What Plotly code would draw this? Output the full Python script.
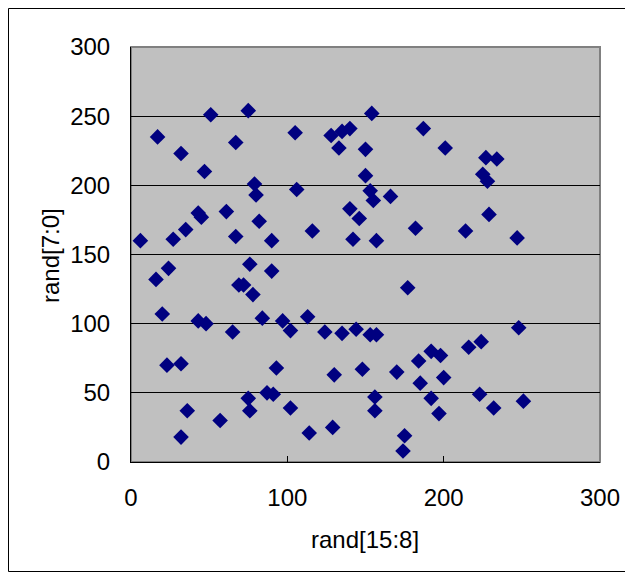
import plotly.graph_objects as go

x_vals = [6, 17, 32, 47, 51, 67, 75, 79, 80, 106, 105, 128, 135, 140, 133, 154, 150, 150, 153, 155,
          166, 187, 201, 227, 234, 225, 228, 229, 214, 247, 182, 157, 142, 146, 140, 116, 90, 82, 61, 43,
          45, 35, 27, 67, 24, 16, 76, 90, 69, 72, 78, 177, 20, 43, 48, 65, 84, 97, 102, 113,
          124, 135, 144, 153, 157, 248, 23, 32, 93, 87, 91, 130, 148, 170, 184, 192, 198, 200, 185, 216,
          224, 223, 232, 251, 192, 197, 156, 156, 175, 174, 129, 114, 102, 75, 76, 57, 36, 32]
y_vals = [160, 235, 223, 210, 251, 231, 254, 201, 193, 197, 238, 236, 239, 241, 227, 252, 226, 207, 196, 189,
          192, 241, 227, 220, 219, 208, 203, 179, 167, 162, 169, 160, 161, 176, 183, 167, 160, 174, 181, 180,
          177, 168, 161, 163, 140, 132, 143, 138, 128, 128, 121, 126, 107, 102, 100, 94, 104, 102, 95, 105,
          94, 93, 96, 92, 92, 97, 70, 71, 68, 50, 49, 63, 67, 65, 73, 80, 77, 61, 57, 83,
          87, 49, 39, 44, 46, 35, 47, 37, 19, 8, 25, 21, 39, 46, 37, 30, 37, 18]

x_ticks = [0, 100, 200, 300]
y_ticks = [0, 50, 100, 150, 200, 250, 300]
x_title = "rand[15:8]"
y_title = "rand[7:0]"

FONT = "Liberation Sans, Arial, sans-serif"
FS = 24

# figure is drawn inside the page's 8px body margin
W, H = 625, 564
L, R, T, B = 123, 592, 39, 454
pw, ph = R - L, B - T

def px(x):
    return (x - L) / pw

def py(y):
    return (B - y) / ph

fig = go.Figure()
fig.add_trace(go.Scatter(
    x=x_vals, y=y_vals, mode="markers",
    marker=dict(symbol="diamond", size=12, color="#000080", line=dict(width=0)),
    showlegend=False, cliponaxis=False,
))

fig.update_layout(
    width=W, height=H,
    margin=dict(l=L, r=W - R, t=T, b=H - B),
    paper_bgcolor="white",
    plot_bgcolor="#C0C0C0",
    font=dict(family=FONT, size=FS, color="black"),
    xaxis=dict(
        range=[0, 300], tickvals=x_ticks, ticktext=[str(v) for v in x_ticks],
        showgrid=False, zeroline=False,
        showline=True, linecolor="black", linewidth=1,
        ticks="inside", ticklen=6, tickcolor="black",
        tickfont=dict(family=FONT, size=FS),
        ticklabelstandoff=14,
    ),
    yaxis=dict(
        range=[0, 300], tickvals=y_ticks, ticktext=[str(v) for v in y_ticks],
        showgrid=True, gridcolor="black", gridwidth=1, zeroline=False,
        showline=True, linecolor="black", linewidth=1,
        ticks="inside", ticklen=6, tickcolor="black",
        tickfont=dict(family=FONT, size=FS),
        ticklabelstandoff=15,
    ),
    annotations=[
        dict(text=x_title, xref="paper", yref="paper", x=px(357), y=py(531),
             xanchor="center", yanchor="middle", showarrow=False,
             font=dict(family=FONT, size=FS)),
        dict(text=y_title, xref="paper", yref="paper", x=px(42), y=py(248),
             xanchor="center", yanchor="middle", showarrow=False, textangle=-90,
             font=dict(family=FONT, size=FS)),
    ],
    shapes=[
        dict(type="rect", xref="paper", yref="paper", x0=0, x1=1, y0=0, y1=1,
             line=dict(color="#808080", width=2), layer="below"),
        dict(type="rect", xref="paper", yref="paper",
             x0=px(0.5), x1=px(W - 0.5), y0=py(H - 0.5), y1=py(0.5),
             line=dict(color="black", width=1)),
    ],
)

fig.write_html("out.html")
